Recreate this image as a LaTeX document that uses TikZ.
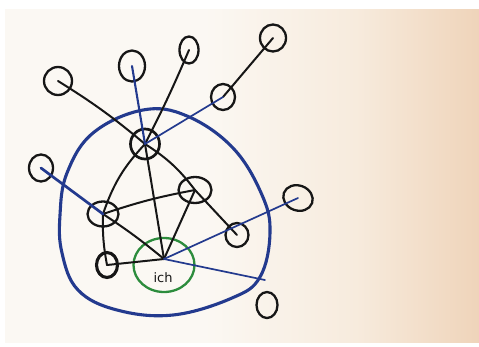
\documentclass[tikz,border=0pt]{standalone}
\usetikzlibrary{shapes.geometric}
\usepackage{fontspec}
\setsansfont{DejaVu Sans}
\definecolor{ink}{HTML}{161616}
\definecolor{pen}{HTML}{233A8E}
\definecolor{grn}{HTML}{2C8C3C}
\definecolor{paperL}{HTML}{FBF8F3}
\definecolor{paperM}{HTML}{F7EBDD}
\definecolor{paperR}{HTML}{EFD4BA}
\pgfdeclarehorizontalshading{paper}{100bp}{color(0bp)=(paperL); color(25bp)=(paperL); color(46bp)=(paperL); color(62bp)=(paperM); color(75bp)=(paperR); color(100bp)=(paperR)}
\begin{document}
\begin{tikzpicture}[x=1pt,y=-1pt,
  nd/.style={draw=ink, line width=2.3pt, ellipse, inner sep=0pt},
  blk/.style={draw=ink, line width=2pt, line cap=round},
  blu/.style={draw=pen, line width=1.7pt, line cap=round},
  loop/.style={draw=pen, line width=3.1pt}]
\fill[white] (0,0) rectangle (479,346);
\useasboundingbox (0,0) rectangle (479,346);
\shade[shading=paper] (5,9) rectangle (479,342);

% big blue loop
\draw[loop] plot[smooth cycle, tension=0.65] coordinates {
  (143,110) (187,116) (233,148) (262,195) (270,233) (260,277) (232,298)
  (173,315) (117,310) (78,290) (62,253) (60,215) (67,173) (93,133)};

% nodes
\node[nd, minimum width=28, minimum height=28] (A) at (58,81) {};
\node[nd, minimum width=26, minimum height=31] (B) at (132,66) {};
\node[nd, minimum width=19, minimum height=27] (C) at (189,50) {};
\node[nd, minimum width=26, minimum height=27] (D) at (273,38) {};
\node[nd, minimum width=24, minimum height=26] (E) at (223,97) {};
\node[nd, line width=2.7pt, minimum width=29, minimum height=30] (H) at (145,144) {};
\node[nd, minimum width=24, minimum height=27] (F) at (41,168) {};
\node[nd, minimum width=33, minimum height=26] (G) at (195,190) {};
\node[nd, minimum width=31, minimum height=25] (L) at (103,214) {};
\node[nd, rotate=-20, minimum width=30, minimum height=25] (M) at (298,198) {};
\node[nd, minimum width=23, minimum height=24] (N) at (237,235) {};
\node[nd, line width=3.1pt, minimum width=21, minimum height=25] (P) at (107,265) {};
\node[nd, minimum width=21, minimum height=26] (Q) at (267,305) {};
\node[ellipse, draw=grn, line width=2.3pt, minimum width=61, minimum height=54, inner sep=0pt] (ich) at (164,265) {};
\node[font=\sffamily\fontsize{13}{13}\selectfont, text=ink] (ichtxt) at (163,278) {ich};
\coordinate (hub) at (164,259);
\coordinate (free) at (265,280);

% black edges
\draw[blk] (A.center) to[bend left=4] (H.center);
\draw[blk] (H.center) to[bend left=10] (G.center);
\draw[blk] (C.center) to[bend left=2] (H.center);
\draw[blk] (D.center) -- (E.center);
\draw[blk] (H.center) to[bend right=12] (L.center);
\draw[blk] (H.center) -- (hub);
\draw[blk] (L.center) to[bend left=4] (G.center);
\draw[blk] (L.center) to[bend left=3] (hub);
\draw[blk] (L.center) to[bend right=6] (P.center);
\draw[blk] (P.center) -- (hub);
\draw[blk] (G.center) -- (hub);
\draw[blk] (G.center) -- (N.center);

% blue edges
\draw[blu, line width=2.1pt] (B.center) -- (H.center);
\draw[blu] (E.center) -- (H.center);
\draw[blu, line width=2.7pt] (F.center) -- (L.center);
\draw[blu] (hub) -- (M.center);
\draw[blu] (hub) -- (free);
\end{tikzpicture}
\end{document}
